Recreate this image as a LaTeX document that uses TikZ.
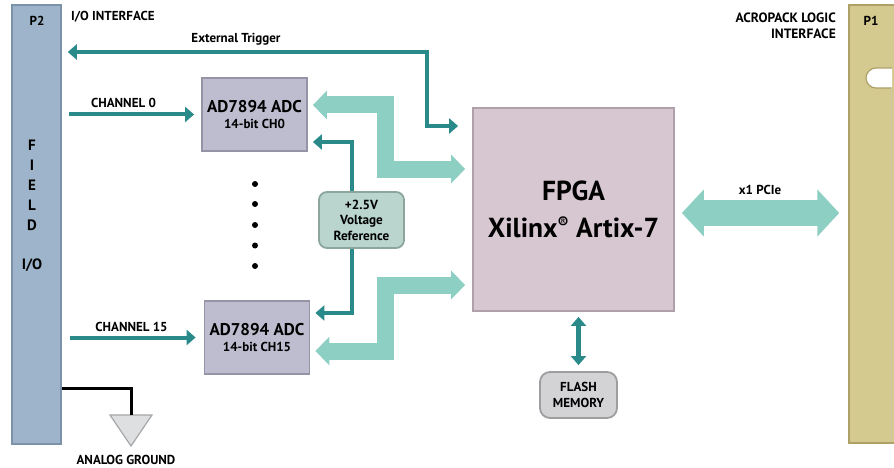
\documentclass[tikz,border=0pt]{standalone}
\usepackage{fontspec}
\setmainfont{PT Sans}
\usetikzlibrary{arrows.meta,calc}
\definecolor{tealdark}{HTML}{2A8A8A}
\definecolor{teallight}{HTML}{8DCFC3}
\definecolor{p2fill}{HTML}{9EB4CA}
\definecolor{p2line}{HTML}{7C92A8}
\definecolor{adcfill}{HTML}{BEBDCF}
\definecolor{adcline}{HTML}{9594A6}
\definecolor{vreffill}{HTML}{B9D5CD}
\definecolor{vrefline}{HTML}{8CA69E}
\definecolor{fpgafill}{HTML}{D7C7D0}
\definecolor{fpgaline}{HTML}{B0A0AA}
\definecolor{flashfill}{HTML}{D3D3D5}
\definecolor{flashline}{HTML}{9E9EA0}
\definecolor{p1fill}{HTML}{D4C98E}
\definecolor{p1line}{HTML}{ADA168}
\definecolor{gndfill}{HTML}{DEDFE1}
\definecolor{gndline}{HTML}{A6A7A9}
\newcommand\fsz[2]{\fontsize{#1}{#2}\selectfont}
\tikzset{
  bar/.style={draw=#1line, fill=#1fill, line width=1.5pt, inner sep=0pt},
  box/.style={draw=#1line, fill=#1fill, line width=1.8pt, inner sep=0pt, align=center},
  rbox/.style={box=#1, rounded corners=8pt},
  lbl/.style={inner sep=0pt, font=\fsz{13}{15}\bfseries},
  tarrow/.style={draw=tealdark, line width=4pt, -{Triangle[width=15pt,length=9pt]}},
  tdarrow/.style={draw=tealdark, line width=4pt, {Triangle[width=15pt,length=9pt]}-{Triangle[width=15pt,length=9pt]}},
  fat/.style={draw=teallight, line width=17pt, {Triangle[width=28pt,length=14pt]}-{Triangle[width=28pt,length=14pt]}},
  pcie/.style={draw=teallight, line width=26pt, {Triangle[width=46pt,length=22pt]}-{Triangle[width=46pt,length=22pt]}},
}
\begin{document}
\begin{tikzpicture}[x=1pt,y=-1pt,font=\bfseries]
\useasboundingbox[fill=white] (0,0) rectangle (894,468);

% connector bars
\node[bar=p2, minimum width=49pt, minimum height=439pt] (p2) at (36.5,224.5) {};
\node[bar=p1, minimum width=58pt, minimum height=438pt] (p1) at (878,224) {};
\draw[p1line, line width=1.2pt, fill=white] (892,68) -- (876,68) arc[start angle=90, end angle=270, x radius=10pt, y radius=10pt] -- (892,88);
\draw[p1line!60!white, line width=1pt] (891,88) -- (891,442);

% blocks
\node[box=adc, minimum width=105pt, minimum height=73pt, font=\fsz{13}{15.7}\bfseries] (adc0) at (254.5,114.5)
  {{\fsz{17}{15.7}AD7894 ADC}\\14-bit CH0};
\node[box=adc, minimum width=105pt, minimum height=73pt, font=\fsz{13}{15.7}\bfseries] (adc15) at (257,337.5)
  {{\fsz{17}{15.7}AD7894 ADC}\\14-bit CH15};
\node[box=fpga, minimum width=201pt, minimum height=203pt, font=\fsz{27.5}{36.5}\bfseries] (fpga) at (573.5,209.5)
  {FPGA\\Xilinx\textsuperscript{\fsz{16}{16}\textregistered} Artix-7};
\node[rbox=vref, minimum width=85pt, minimum height=56pt, font=\fsz{13.2}{15.5}\bfseries] (vref) at (361.5,220)
  {+2.5V\\Voltage\\Reference};
\node[rbox=flash, minimum width=77pt, minimum height=46pt, font=\fsz{13}{16}\bfseries, rounded corners=10pt] (flash) at (578.5,395)
  {FLASH\\MEMORY};

% dots
\foreach \yy [count=\i] in {184,204,225,245.5,266}
  \fill (255,\yy) circle (3pt) coordinate (dot\i);

% labels
\node[lbl, anchor=base west] (iolbl) at (71,20.5) {I/O INTERFACE};
\node[lbl, anchor=base] (p2lbl) at (37,26) {P2};
\node[lbl, anchor=base] (p1lbl) at (871,26) {P1};
\node[lbl, anchor=east, align=right, font=\fsz{13.5}{16.4}\bfseries] (acrolbl) at (836,25.5) {ACROPACK LOGIC\\INTERFACE};
\node[lbl, anchor=center, align=center, font=\fsz{15}{19.9}\bfseries] (fieldlbl) at (32,206) {F\\I\\E\\L\\D\\[20pt]I/O};

% external trigger
\draw[tdarrow] ($(fpga.west)+(-14,-83.5)$) -- ++(-31,0) |- ($(p2.east)+(6,-172.5)$);
\node[lbl, anchor=base] (etlbl) at (236,42.5) {External Trigger};

% channels
\draw[tarrow] ($(p2.east |- adc0.west)+(7,0)$) -- ($(adc0.west)+(-7,0)$);
\node[lbl, anchor=base] (ch0lbl) at (123.5,107.7) {CHANNEL 0};
\draw[tarrow] ($(p2.east |- adc15.west)+(8,0)$) -- ($(adc15.west)+(-8,0)$);
\node[lbl, anchor=base] (ch15lbl) at (131.5,331) {CHANNEL 15};

% voltage reference
\draw[tarrow] ($(vref.north)+(-9.5,0)$) |- ($(adc0.east)+(5,27.5)$);
\draw[tarrow] ($(vref.south)+(-9.5,0)$) |- ($(adc15.east)+(5,-24.5)$);

% data buses
\draw[fat] ($(adc0.east)+(5,-9.5)$) -- ++(72.5,0) |- ($(fpga.west)+(-7,-40.5)$);
\draw[fat] ($(adc15.east)+(5,13.5)$) -- ++(70,0) |- ($(fpga.west)+(-7,75.5)$);

% PCIe
\draw[pcie] ($(fpga.east)+(7,3.5)$) -- ($(fpga.east -| p1.west)+(-9,3.5)$);
\node[lbl, anchor=base] (pcielbl) at (760,194) {x1 PCIe};

% flash
\draw[tdarrow, line width=5pt] ($(flash.north |- fpga.south)+(0,5)$) -- ($(flash.north)+(0,-6)$);

% analog ground
\coordinate (gndtop) at (131,415);
\draw[gndline, fill=gndfill, line width=1.2pt] (110,415) -- (152,415) -- (131,446) -- cycle;
\draw[black, line width=3pt] ($(p2.east)+(0,163.5)$) -| (gndtop);
\node[lbl, anchor=base] (gndlbl) at (126,464.3) {ANALOG GROUND};
\end{tikzpicture}
\end{document}
